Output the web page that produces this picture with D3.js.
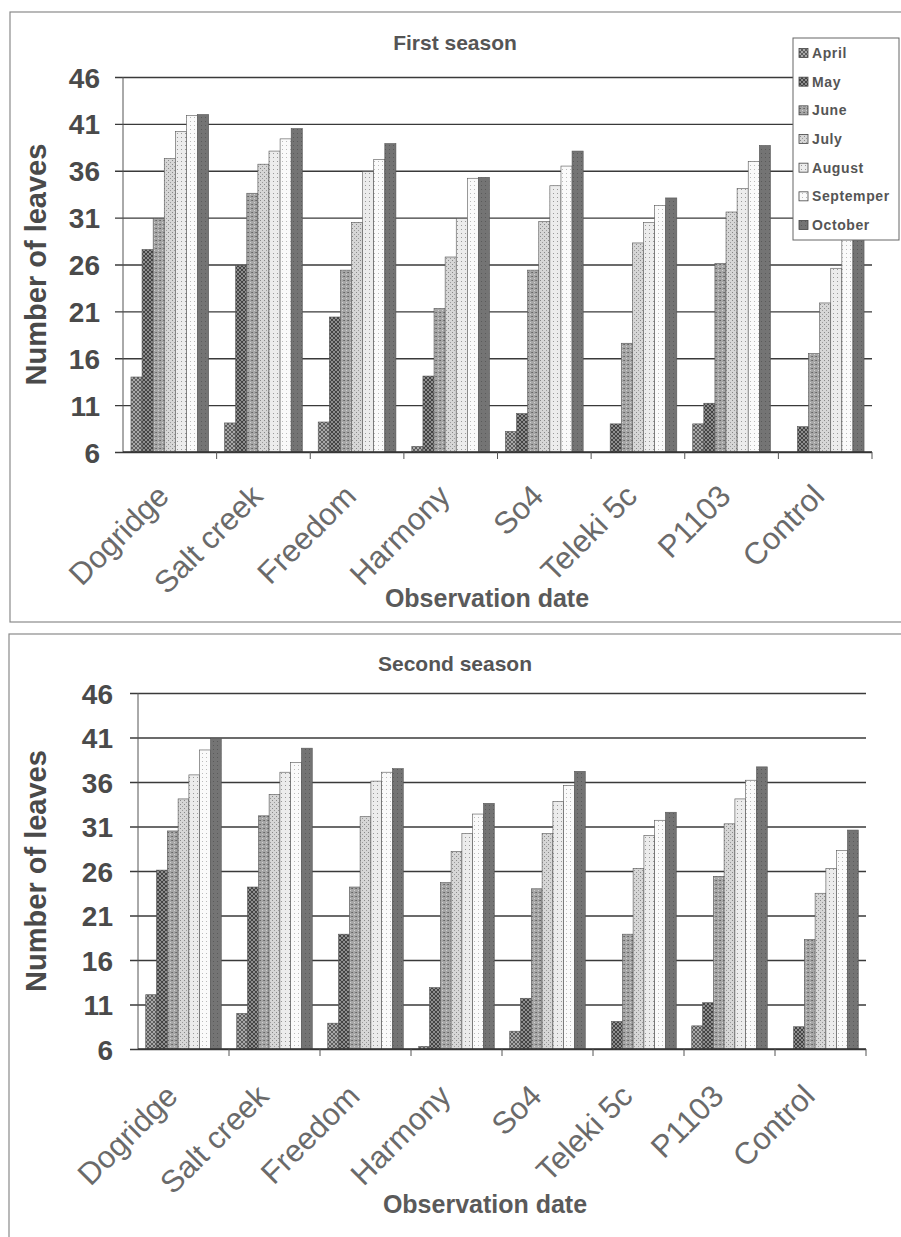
<!DOCTYPE html>
<html><head><meta charset="utf-8">
<script src="https://cdn.jsdelivr.net/npm/d3@7"></script>
<style>body{margin:0;background:#fff}svg{display:block}text{font-family:"Liberation Sans",Arial,sans-serif}</style>
</head><body>
<svg id="c" width="901" height="1237"></svg>
<script>
const categories = ["Dogridge","Salt creek","Freedom","Harmony","So4","Teleki 5c","P1103","Control"];
const months = ["April","May","June","July","August","Septemper","October"];
const yTicks = [6,11,16,21,26,31,36,41,46];

// First season values (per month, per category)
const s1April  = [14.0, 9.1, 9.2, 6.6, 8.2, 6.0, 9.0, 6.0];
const s1May    = [27.6, 25.9, 20.4, 14.1, 10.1, 9.0, 11.2, 8.7];
const s1June   = [30.9, 33.6, 25.4, 21.3, 25.4, 17.6, 26.1, 16.5];
const s1July   = [37.3, 36.7, 30.5, 26.8, 30.6, 28.3, 31.6, 21.9];
const s1August = [40.2, 38.1, 35.9, 30.9, 34.4, 30.5, 34.1, 25.6];
const s1Sept   = [41.9, 39.4, 37.2, 35.2, 36.5, 32.3, 37.0, 29.0];
const s1Oct    = [42.0, 40.5, 38.9, 35.3, 38.1, 33.1, 38.7, 31.5];

// Second season values
const s2April  = [12.1, 10.0, 8.9, 6.3, 8.0, 6.0, 8.6, 6.0];
const s2May    = [26.1, 24.2, 18.9, 12.9, 11.7, 9.1, 11.2, 8.5];
const s2June   = [30.5, 32.2, 24.2, 24.7, 24.0, 18.9, 25.4, 18.3];
const s2July   = [34.1, 34.6, 32.1, 28.2, 30.2, 26.3, 31.3, 23.5];
const s2August = [36.8, 37.1, 36.1, 30.2, 33.8, 30.0, 34.1, 26.3];
const s2Sept   = [39.6, 38.2, 37.1, 32.4, 35.6, 31.7, 36.2, 28.3];
const s2Oct    = [40.9, 39.8, 37.5, 33.6, 37.2, 32.6, 37.7, 30.6];

const season1 = [s1April,s1May,s1June,s1July,s1August,s1Sept,s1Oct];
const season2 = [s2April,s2May,s2June,s2July,s2August,s2Sept,s2Oct];

const svg = d3.select("#c");
const defs = svg.append("defs");

function pat(id, bg, draw){
  const p = defs.append("pattern").attr("id",id).attr("patternUnits","userSpaceOnUse").attr("width",4).attr("height",4);
  p.append("rect").attr("width",4).attr("height",4).attr("fill",bg);
  draw(p);
}
pat("pApr","#a8a8a8",p=>{p.append("path").attr("d","M0,0L4,4M4,0L0,4").attr("stroke","#555").attr("stroke-width",0.9);});
pat("pMay","#8e8e8e",p=>{p.append("path").attr("d","M0,0L4,4M4,0L0,4").attr("stroke","#444").attr("stroke-width",1);});
pat("pJun","#a6a6a6",p=>{p.append("rect").attr("x",0).attr("y",0).attr("width",1).attr("height",1).attr("fill","#666");p.append("rect").attr("x",2).attr("y",2).attr("width",1).attr("height",1).attr("fill","#d0d0d0");p.append("rect").attr("x",3).attr("y",0).attr("width",1).attr("height",1).attr("fill","#777");});
pat("pJul","#d6d6d6",p=>{p.append("rect").attr("x",0).attr("y",0).attr("width",1).attr("height",1).attr("fill","#888");p.append("rect").attr("x",2).attr("y",2).attr("width",1).attr("height",1).attr("fill","#999");});
pat("pAug","#ececec",p=>{p.append("rect").attr("x",1).attr("y",1).attr("width",1).attr("height",1).attr("fill","#999");});
pat("pSep","#fafafa",p=>{p.append("rect").attr("x",2).attr("y",1).attr("width",1).attr("height",1).attr("fill","#bbb");});
pat("pOct","#747474",p=>{p.append("rect").attr("x",1).attr("y",1).attr("width",1).attr("height",1).attr("fill","#5a5a5a");});
const fills = ["url(#pApr)","url(#pMay)","url(#pJun)","url(#pJul)","url(#pAug)","url(#pSep)","url(#pOct)"];

function panel(cfg){
  const g = svg.append("g");
  g.append("rect").attr("x",cfg.fx).attr("y",cfg.fy).attr("width",cfg.fw).attr("height",cfg.fh)
    .attr("fill","none").attr("stroke","#8a8a8a").attr("stroke-width",1.2);

  const x0 = d3.scaleBand().domain(categories).range([cfg.left,cfg.right]).paddingInner(0.17).paddingOuter(0.085);
  const x1 = d3.scaleBand().domain(months).range([0,x0.bandwidth()]);
  const y = d3.scaleLinear().domain([6,46]).range([cfg.bottom,cfg.top]);

  const ya = g.append("g").attr("transform",`translate(${cfg.left},0)`)
    .call(d3.axisLeft(y).tickValues(yTicks).tickSize(-(cfg.right-cfg.left)-8).tickSizeOuter(0).tickPadding(0));
  ya.select(".domain").remove();
  ya.selectAll(".tick line").attr("x1",-8).attr("x2",cfg.right-cfg.left).attr("stroke","#3a3a3a").attr("stroke-width",1.4);
  ya.selectAll(".tick text").attr("x",-cfg.tickGap).attr("dy","0.36em")
    .attr("font-size",28).attr("font-weight","bold").attr("fill","#4a4a4a").attr("text-anchor","end");

  const data = [];
  categories.forEach((c,ci)=>months.forEach((m,mi)=>data.push({c,m,v:cfg.values[mi][ci],mi})));
  g.append("g").selectAll("rect").data(data).join("rect")
    .attr("x",d=>x0(d.c)+x1(d.m)).attr("width",x1.bandwidth())
    .attr("y",d=>y(d.v)).attr("height",d=>y(6)-y(d.v))
    .attr("fill",d=>fills[d.mi]).attr("stroke","#555").attr("stroke-width",0.6);

  g.append("line").attr("x1",cfg.left).attr("x2",cfg.left).attr("y1",cfg.top).attr("y2",cfg.bottom)
    .attr("stroke","#555").attr("stroke-width",1);
  g.append("line").attr("x1",cfg.left).attr("x2",cfg.right).attr("y1",cfg.bottom).attr("y2",cfg.bottom)
    .attr("stroke","#333").attr("stroke-width",1.4);
  const step = x0.step();
  const bounds = categories.map(c=>x0(c)+x0.bandwidth()+step*0.085);
  g.append("g").selectAll("line").data(bounds).join("line")
    .attr("x1",d=>d).attr("x2",d=>d).attr("y1",cfg.bottom).attr("y2",cfg.bottom+7)
    .attr("stroke","#555").attr("stroke-width",1);

  g.append("g").selectAll("text").data(categories).join("text")
    .attr("transform",c=>`translate(${x0(c)+x0.bandwidth()/2+cfg.labDx},${cfg.bottom+cfg.labDy}) rotate(-45)`)
    .attr("text-anchor","end").attr("font-size",31).attr("fill","#6a6a6a").text(c=>c);

  g.append("text").attr("x",cfg.titleX).attr("y",cfg.titleY).attr("text-anchor","middle")
    .attr("font-size",21).attr("font-weight","bold").attr("fill","#555").text(cfg.title);
  g.append("text").attr("x",cfg.xtX).attr("y",cfg.xtY).attr("text-anchor","middle")
    .attr("font-size",25).attr("font-weight","bold").attr("fill","#5a5a5a").text("Observation date");
  g.append("text").attr("transform",`translate(${cfg.ytX},${(cfg.top+cfg.bottom)/2}) rotate(-90)`)
    .attr("text-anchor","middle").attr("font-size",29).attr("font-weight","bold").attr("fill","#4a4a4a").text("Number of leaves");
  return g;
}

panel({fx:10,fy:12,fw:900,fh:610,left:123,right:872,top:77,bottom:452,tickGap:23,labDx:1,labDy:46,
  values:season1,title:"First season",titleX:455,titleY:50,xtX:487,xtY:607,ytX:46});
panel({fx:9,fy:634,fw:900,fh:610,left:138,right:866,top:693,bottom:1049,tickGap:25,labDx:-4,labDy:49,
  values:season2,title:"Second season",titleX:455,titleY:671,xtX:485,xtY:1213,ytX:46});

const lg = svg.append("g");
lg.append("rect").attr("x",793).attr("y",38).attr("width",106).attr("height",202)
  .attr("fill","#fff").attr("stroke","#666").attr("stroke-width",1);
const ly = d3.scalePoint().domain(months).range([53,225]);
months.forEach((m,i)=>{
  lg.append("rect").attr("x",799).attr("y",ly(m)-4.5).attr("width",9).attr("height",9)
    .attr("fill",fills[i]).attr("stroke","#444").attr("stroke-width",0.8);
  lg.append("text").attr("x",812).attr("y",ly(m)).attr("dy","0.36em").attr("font-size",14)
    .attr("font-weight","bold").attr("fill","#555").attr("letter-spacing",0.6).text(m);
});
</script>
</body></html>
